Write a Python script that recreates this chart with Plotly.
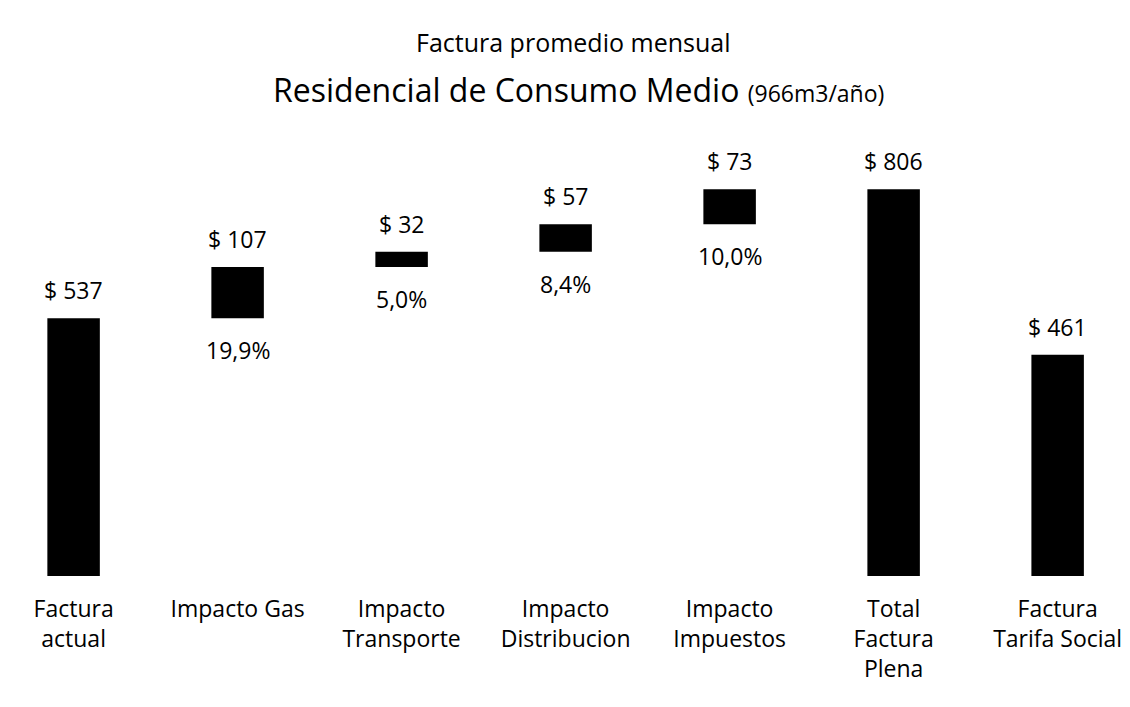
import plotly.graph_objects as go

categories = ["Factura<br>actual", "Impacto Gas", "Impacto<br>Transporte", "Impacto<br>Distribucion",
              "Impacto<br>Impuestos", "Total<br>Factura<br>Plena", "Factura<br>Tarifa Social"]
values = [537, 107, 32, 57, 73, 806, 461]
measures = ["absolute", "relative", "relative", "relative", "relative", "total", "absolute"]
value_labels = ["$ 537", "$ 107", "$ 32", "$ 57", "$ 73", "$ 806", "$ 461"]
pct_labels = ["", "19,9%", "5,0%", "8,4%", "10,0%", "", ""]

FONT = "Open Sans, Lato, sans-serif"

fig = go.Figure(go.Waterfall(
    x=categories,
    y=values,
    measure=measures,
    increasing=dict(marker=dict(color="black")),
    decreasing=dict(marker=dict(color="black")),
    totals=dict(marker=dict(color="black")),
    connector=dict(visible=False),
    width=0.32,
))

# tops and bottoms of each bar, from the waterfall logic
tops, bottoms = [], []
running = 0
for v, m in zip(values, measures):
    if m == "absolute":
        bottoms.append(0); tops.append(v); running = v
    elif m == "relative":
        bottoms.append(running); running += v; tops.append(running)
    else:
        bottoms.append(0); tops.append(running)

for i, cat in enumerate(categories):
    fig.add_annotation(x=cat, y=tops[i], text=value_labels[i], showarrow=False,
                       yanchor="bottom", yshift=10, font=dict(size=23, color="black", family=FONT))
    if pct_labels[i]:
        fig.add_annotation(x=cat, y=bottoms[i], text=pct_labels[i], showarrow=False,
                           yanchor="top", yshift=-14, font=dict(size=23, color="black", family=FONT))

# two-line title
fig.add_annotation(xref="paper", yref="paper", x=0.5, y=1.124, yanchor="middle",
                   text="Factura promedio mensual", showarrow=False,
                   font=dict(size=25, color="black", family=FONT))
fig.add_annotation(xref="paper", yref="paper", x=0.505, y=1.025, yanchor="middle",
                   text="Residencial de Consumo Medio <span style='font-size:23px'>(966m3/año)</span>",
                   showarrow=False, font=dict(size=32, color="black", family=FONT))

fig.update_layout(
    width=1130, height=707,
    paper_bgcolor="white", plot_bgcolor="white",
    margin=dict(l=0, r=0, t=93, b=139),
    showlegend=False,
    font=dict(family=FONT, size=23, color="black"),
)
fig.update_xaxes(range=[-0.40, 6.49], showgrid=False, showline=False, ticks="",
                 tickfont=dict(size=23, family=FONT), ticklabelstandoff=17)
fig.update_yaxes(range=[0, 990], visible=False)

fig.write_html("out.html")
